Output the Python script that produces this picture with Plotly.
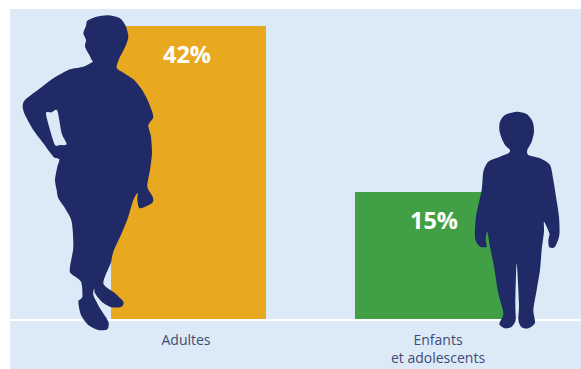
import plotly.graph_objects as go

categories = ["Adultes", "Enfants<br>et adolescents"]
bar_heights = [42, 18.2]
labels = ["42%", "15%"]
bar_colors = ["#E8A820", "#41A046"]

W, H = 581, 369
L, T, B = 10, 9, 50
PW, PH = W - L, H - T - B
SPACING = 252

def smooth(zoom_pts, ox, oy):
    def conv(p):
        return (ox + p[0] / 3 - L) / PW, (T + PH - (oy + p[1] / 3)) / PH
    c = [conv(p) for p in zoom_pts]
    n = len(c)
    s = f"M{c[0][0]:.5f},{c[0][1]:.5f}"
    for i in range(n):
        p0, p1, p2, p3 = c[i - 1], c[i], c[(i + 1) % n], c[(i + 2) % n]
        k = 1 / 8
        a = (p1[0] + (p2[0] - p0[0]) * k, p1[1] + (p2[1] - p0[1]) * k)
        b = (p2[0] - (p3[0] - p1[0]) * k, p2[1] - (p3[1] - p1[1]) * k)
        s += f" C{a[0]:.5f},{a[1]:.5f} {b[0]:.5f},{b[1]:.5f} {p2[0]:.5f},{p2[1]:.5f}"
    return s + " Z"

adult = [(275,180),(268,165),(255,140),(258,120),(250,100),(258,78),(262,62),(290,50),(325,46),(360,55),
         (378,80),(385,110),(378,135),(368,155),(358,175),(350,203),(370,218),(400,238),(425,268),(445,305),
         (460,350),(445,375),(453,410),(456,460),(450,510),(442,560),(458,590),(457,608),(420,625),(412,600),
         (413,578),(400,600),(385,650),(365,700),(340,755),(332,790),(310,850),(345,880),(370,905),(365,920),
         (335,922),(305,905),(285,880),(283,865),(280,885),(300,925),(325,965),(322,988),(295,990),(265,975),
         (243,945),(235,905),(247,890),(243,845),(212,820),(210,800),(220,740),(215,665),(195,625),(175,595),
         (170,570),(165,540),(172,500),(178,478),(160,470),(130,430),(100,390),(75,345),(68,320),(75,300),
         (120,265),(160,235),(210,208),(250,200),(278,185)]
adult_hole = [(165,435),(180,435),(200,433),(185,400),(172,332),(155,337),(138,340),(150,390)]
child = [(510,150),(495,135),(485,115),(478,90),(480,65),(495,45),(530,35),(560,42),(578,65),(582,95),
         (575,125),(562,150),(565,165),(600,175),(630,195),(640,240),(648,290),(657,350),(658,405),(645,440),
         (628,442),(625,420),(628,400),(612,365),(612,395),(605,450),(600,510),(590,570),(580,630),(585,668),
         (565,685),(545,682),(535,660),(537,610),(530,490),(526,610),(527,660),(515,680),(495,685),(478,672),
         (490,640),(475,580),(462,500),(450,440),(442,395),(437,420),(440,440),(420,440),(405,415),(408,350),
         (425,270),(430,215),(445,185),(480,170),(505,160)]

lefts_px = [111, 355]
centers_px = [186, 438]
bar_w_px = 155
fig = go.Figure(go.Bar(x=categories, y=bar_heights,
                       width=[bar_w_px / SPACING] * 2,
                       offset=[(l - c) / SPACING for l, c in zip(lefts_px, centers_px)],
                       marker=dict(color=bar_colors, line_width=0), hoverinfo="skip"))

NAVY = "#1F2A66"
shapes = [
    dict(type="rect", xref="paper", yref="paper", x0=-L/PW, x1=1, y0=1, y1=1+T/PH, fillcolor="white", line_width=0, layer="above"),
    dict(type="rect", xref="paper", yref="paper", x0=-L/PW, x1=0, y0=-B/PH, y1=1+T/PH, fillcolor="white", line_width=0, layer="above"),
    dict(type="path", xref="paper", yref="paper", path=smooth(adult, 0, 0) + " " + smooth(adult_hole, 0, 0), fillcolor=NAVY, line_width=0, layer="above"),
    dict(type="path", xref="paper", yref="paper", path=smooth(child, 340, 100), fillcolor=NAVY, line_width=0, layer="above"),
]
annotations = [dict(x=c, y=v, xref="x", yref="y", text=f"<b>{t}</b>", showarrow=False, yshift=ys, xshift=s,
                    font=dict(family="Open Sans", size=23.5, color="white"))
               for c, v, t, s, ys in zip(categories, bar_heights, labels, [1, -4], [-28, -28])]

scale = 293 / 42
fig.update_layout(
    width=W, height=H, margin=dict(l=L, r=0, t=T, b=B), showlegend=False,
    paper_bgcolor="#DCEAF7", plot_bgcolor="#DCEAF7",
    shapes=shapes, annotations=annotations,
    xaxis=dict(range=[(L - 186) / SPACING, (W - 186) / SPACING], type="category", showgrid=False,
               ticks="outside", ticklen=7, tickcolor="rgba(0,0,0,0)",
               showline=True, linecolor="white", linewidth=2,
               tickfont=dict(family="Open Sans", size=14, color="#3F4A78")),
    yaxis=dict(range=[0, PH / scale], visible=False),
)
fig.write_html("out.html", config=dict(displayModeBar=False),
               post_script="document.body.style.margin='0';")
